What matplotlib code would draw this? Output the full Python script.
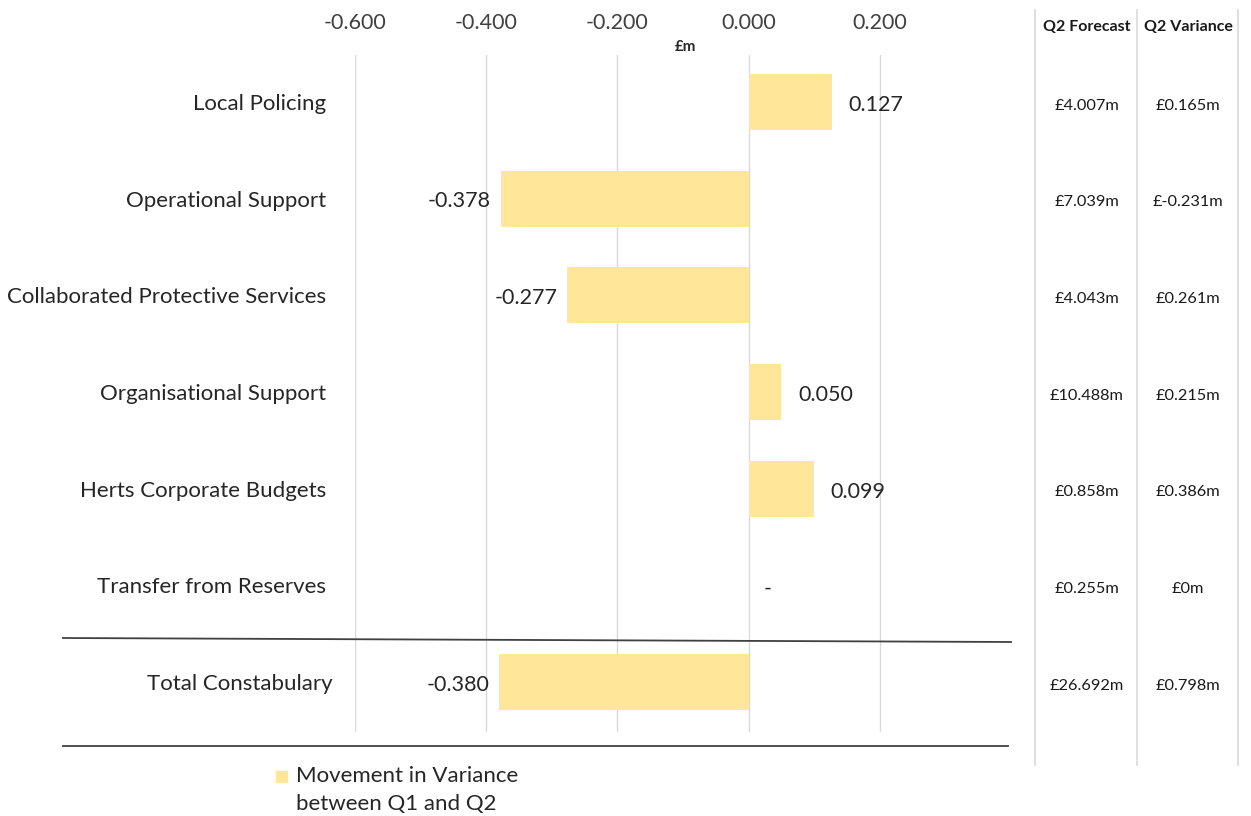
import numpy as np
import matplotlib
matplotlib.use("Agg")
import matplotlib.pyplot as plt
from matplotlib.lines import Line2D
from matplotlib.patches import Rectangle
from matplotlib.transforms import ScaledTranslation

plt.rcParams['font.family'] = ['Lato', 'DejaVu Sans']

# データ
categories = ["Local Policing", "Operational Support", "Collaborated Protective Services",
              "Organisational Support", "Herts Corporate Budgets", "Transfer from Reserves",
              "Total Constabulary"]
movement = [0.127, -0.378, -0.277, 0.050, 0.099, 0.0, -0.380]
q2_forecast = ["£4.007m", "£7.039m", "£4.043m", "£10.488m", "£0.858m", "£0.255m", "£26.692m"]
q2_variance = ["£0.165m", "£-0.231m", "£0.261m", "£0.215m", "£0.386m", "£0m", "£0.798m"]
xticks = [-0.6, -0.4, -0.2, 0.0, 0.2]
legend_label = "Movement in Variance\nbetween Q1 and Q2"

bar_color = "#FFE699"
W, H = 1251, 816
fig = plt.figure(figsize=(W / 100, H / 100), dpi=100)

def fx(px):
    return px / W

def fy(py):
    return 1 - py / H

ax = fig.add_axes([fx(355), fy(732), fx(1011) - fx(355), fy(55) - fy(732)])
y = np.arange(len(categories))
ax.barh(y, movement, height=0.58, color=bar_color, zorder=2)
ax.set_xlim(-0.6, 0.4)
ax.set_ylim(len(categories) - 0.485, -0.485)
ax.set_xticks(xticks)
ax.set_xticklabels(["%.3f" % v for v in xticks])
ax.xaxis.tick_top()
ax.tick_params(axis='x', length=0, pad=16, labelsize=15.5, labelcolor="#404040")
ax.set_yticks(y)
ax.set_yticklabels(categories)
ax.tick_params(axis='y', length=0, pad=21, labelsize=16, labelcolor="#262626")
# Total行のラベルだけ少し右
lab = ax.get_yticklabels()[-1]
lab.set_transform(lab.get_transform() + ScaledTranslation(0.07, 0, fig.dpi_scale_trans))
for s in ax.spines.values():
    s.set_visible(False)
ax.grid(axis='x', color="#D9D9D9", linewidth=1, zorder=0)
ax.set_axisbelow(True)

# 値ラベル
for yi, v in zip(y, movement):
    if v > 0:
        ax.annotate("%.3f" % v, (v, yi), xytext=(12, -2), textcoords="offset points",
                    ha="left", va="center", fontsize=15.5, color="#262626")
    elif v < 0:
        ax.annotate("%.3f" % v, (v, yi), xytext=(-7, -2), textcoords="offset points",
                    ha="right", va="center", fontsize=15.5, color="#262626")
    else:
        ax.annotate("-", (v, yi), xytext=(14, -2), textcoords="offset points",
                    ha="center", va="center", fontsize=15.5, color="#262626")

fig.text(fx(685), fy(47), "£m", ha="center", va="center", fontsize=11, fontweight="bold", color="#262626")

# 区切り線
fig.add_artist(Line2D([fx(63), fx(1011)], [fy(638), fy(642)], color="#404040", linewidth=1.3))
fig.add_artist(Line2D([fx(63), fx(1008)], [fy(746), fy(746)], color="#404040", linewidth=1.3))

# 表
for px in [1035, 1137, 1238]:
    fig.add_artist(Line2D([fx(px), fx(px)], [fy(10), fy(765)], color="#D9D9D9", linewidth=1.2))
fig.text(fx(1087), fy(27), "Q2 Forecast", ha="center", va="center", fontsize=11.5, fontweight="bold", color="#1a1a1a")
fig.text(fx(1188), fy(27), "Q2 Variance", ha="center", va="center", fontsize=11.5, fontweight="bold", color="#1a1a1a")
row_py = [106, 202, 299, 396, 492, 589, 686]
for py, f, v in zip(row_py, q2_forecast, q2_variance):
    fig.text(fx(1087), fy(py), f, ha="center", va="center", fontsize=11.8, color="#1a1a1a")
    fig.text(fx(1188), fy(py), v, ha="center", va="center", fontsize=11.8, color="#1a1a1a")

# 凡例
fig.add_artist(Rectangle((fx(276), fy(782)), fx(11), fy(771) - fy(782), color=bar_color))
fig.text(fx(296), fy(790), legend_label, ha="left", va="center", fontsize=16,
         color="#262626", linespacing=1.45)

fig.savefig("out.png", dpi=100)
